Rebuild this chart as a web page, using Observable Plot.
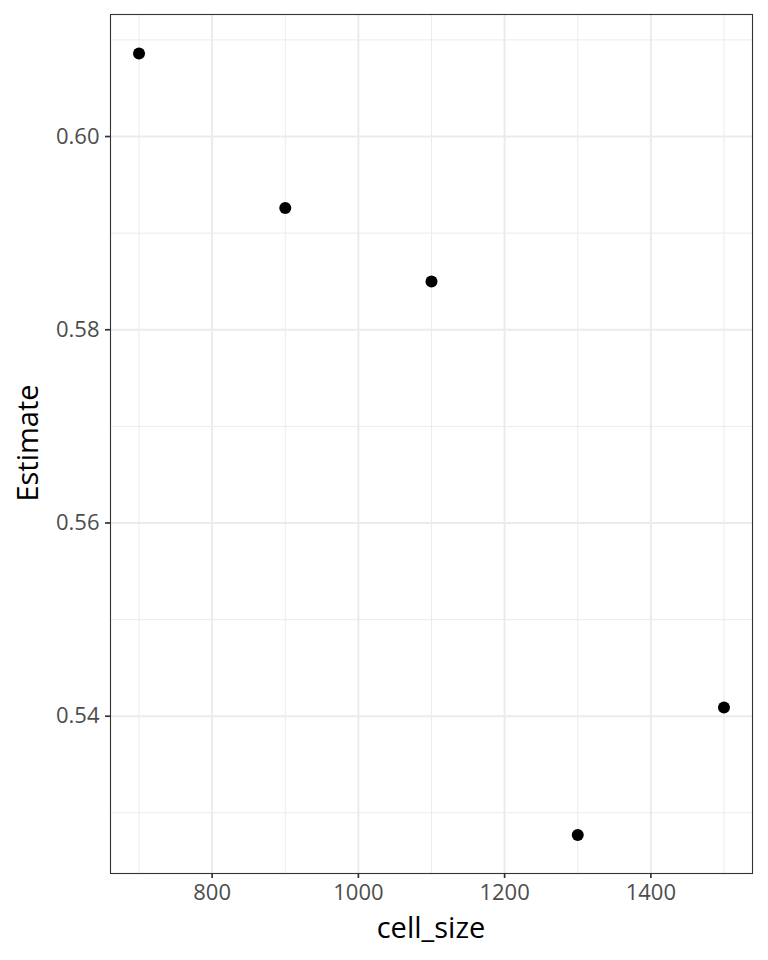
<!DOCTYPE html>
<html><head><meta charset="utf-8">
<script src="https://cdn.jsdelivr.net/npm/d3@7"></script>
<script src="https://cdn.jsdelivr.net/npm/@observablehq/plot@0.6"></script>
<style>body{margin:0;background:#fff;} svg{display:block;}</style>
</head><body><div id="chart"></div>
<script>
const cellSize = [700, 900, 1100, 1300, 1500];
const estimate = [0.6086, 0.5926, 0.5850, 0.5277, 0.5409];
const xMajor = [800, 1000, 1200, 1400];
const xMinor = [700, 900, 1100, 1300, 1500];
const yMajor = [0.54, 0.56, 0.58, 0.60];
const yMinor = [0.53, 0.55, 0.57, 0.59, 0.61];
const data = cellSize.map((c, i) => ({cell_size: c, Estimate: estimate[i]}));
const xDom = [661, 1539];
const yDom = [0.52372, 0.61263];
const plot = Plot.plot({
  width: 768, height: 960,
  marginLeft: 110, marginRight: 16, marginTop: 14, marginBottom: 87,
  style: {fontFamily: "Open Sans", fontSize: "22px", background: "#fff"},
  x: {domain: xDom, label: null},
  y: {domain: yDom, label: null},
  marks: [
    Plot.ruleX(xMinor, {stroke: "#ebebeb", strokeWidth: 1}),
    Plot.ruleY(yMinor, {stroke: "#ebebeb", strokeWidth: 1}),
    Plot.ruleX(xMajor, {stroke: "#ebebeb", strokeWidth: 2}),
    Plot.ruleY(yMajor, {stroke: "#ebebeb", strokeWidth: 2}),
    Plot.frame({stroke: "#333333", strokeWidth: 1.1}),
    Plot.axisX({ticks: xMajor, tickSize: 5, tickPadding: 6, fontSize: 22, stroke: "#333", strokeWidth: 1.7, fill: "#4d4d4d", label: null, tickFormat: d => String(d)}),
    Plot.axisY({ticks: yMajor, tickSize: 5, tickPadding: 6, fontSize: 22, stroke: "#333", strokeWidth: 1.7, fill: "#4d4d4d", label: null, tickFormat: d3.format(".2f")}),
    Plot.dot(data, {x: "cell_size", y: "Estimate", r: 6, fill: "black", stroke: "none"})
  ]
});
const svg = d3.select(plot);
svg.append("text").attr("x", 431).attr("y", 938).attr("text-anchor", "middle")
  .attr("font-family", "Open Sans").attr("font-size", 29).attr("fill", "black").text("cell_size");
svg.append("text").attr("transform", "translate(38,443) rotate(-90)").attr("text-anchor", "middle")
  .attr("font-family", "Open Sans").attr("font-size", 29).attr("fill", "black").text("Estimate");
document.getElementById("chart").appendChild(plot);
</script></body></html>
